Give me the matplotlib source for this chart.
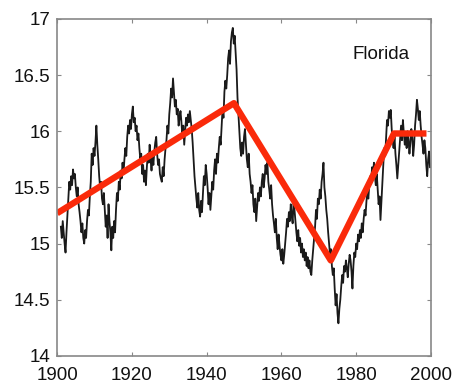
import numpy as np
import matplotlib.pyplot as plt

# quarterly values, one row per year 1901..1999
temp_rows = [
    [15.15, 15.05, 15.20, 15.10],  # 1901
    [15.00, 14.92, 15.10, 15.25],
    [15.40, 15.55, 15.48, 15.60],
    [15.52, 15.66, 15.58, 15.62],
    [15.50, 15.42, 15.50, 15.35],
    [15.28, 15.20, 15.10, 15.18],
    [15.05, 15.00, 15.12, 15.05],
    [15.20, 15.30, 15.25, 15.42],
    [15.55, 15.80, 15.70, 15.85],
    [15.78, 15.90, 16.05, 15.88],  # 1910
    [15.75, 15.60, 15.50, 15.55],
    [15.40, 15.35, 15.45, 15.30],
    [15.15, 15.25, 15.05, 15.35],
    [15.20, 15.10, 14.94, 15.15],
    [15.05, 15.20, 15.10, 15.30],
    [15.45, 15.38, 15.55, 15.48],
    [15.65, 15.58, 15.72, 15.62],
    [15.75, 15.85, 15.78, 15.95],
    [16.05, 15.98, 16.10, 16.02],
    [16.15, 16.22, 16.08, 16.12],  # 1920
    [16.00, 16.05, 15.92, 15.98],
    [15.85, 15.75, 15.80, 15.62],
    [15.70, 15.55, 15.65, 15.52],
    [15.68, 15.80, 15.72, 15.88],
    [15.75, 15.65, 15.78, 15.70],
    [15.82, 15.90, 15.95, 15.80],
    [15.70, 15.75, 15.62, 15.58],
    [15.55, 15.68, 15.60, 15.75],
    [15.85, 15.92, 16.05, 15.98],
    [16.15, 16.25, 16.38, 16.30],  # 1930
    [16.47, 16.35, 16.22, 16.28],
    [16.15, 16.20, 16.05, 16.12],
    [16.18, 16.08, 15.96, 16.05],
    [15.88, 16.00, 16.12, 16.05],
    [16.15, 16.08, 16.18, 16.10],
    [16.02, 15.90, 15.75, 15.60],
    [15.50, 15.40, 15.32, 15.45],
    [15.30, 15.24, 15.38, 15.28],
    [15.45, 15.60, 15.52, 15.70],
    [15.62, 15.50, 15.35, 15.45],  # 1940
    [15.30, 15.42, 15.55, 15.48],
    [15.65, 15.75, 15.62, 15.80],
    [15.72, 15.85, 15.95, 15.88],
    [16.05, 16.20, 16.12, 16.35],
    [16.45, 16.38, 16.50, 16.65],
    [16.72, 16.60, 16.80, 16.88],
    [16.92, 16.78, 16.85, 16.70],
    [16.55, 16.30, 16.15, 16.00],
    [15.85, 15.78, 15.90, 15.80],
    [15.95, 16.02, 15.88, 15.75],  # 1950
    [15.68, 15.80, 15.62, 15.55],
    [15.45, 15.52, 15.35, 15.28],
    [15.40, 15.20, 15.32, 15.45],
    [15.38, 15.50, 15.42, 15.55],
    [15.62, 15.50, 15.58, 15.70],
    [15.62, 15.72, 15.55, 15.48],
    [15.40, 15.52, 15.35, 15.25],
    [15.18, 15.10, 15.22, 15.05],
    [14.95, 15.08, 14.98, 14.90],
    [14.85, 14.95, 14.82, 14.90],  # 1960
    [15.00, 15.10, 15.22, 15.15],
    [15.28, 15.20, 15.35, 15.25],
    [15.18, 15.38, 15.30, 15.20],
    [15.10, 15.02, 15.12, 14.98],
    [15.05, 14.92, 15.00, 14.88],
    [14.95, 14.85, 14.92, 14.80],
    [14.88, 14.78, 14.85, 14.75],
    [14.72, 14.85, 14.95, 15.05],
    [15.15, 15.30, 15.22, 15.40],
    [15.35, 15.48, 15.40, 15.55],  # 1970
    [15.62, 15.72, 15.50, 15.42],
    [15.30, 15.22, 15.10, 15.00],
    [14.90, 14.95, 14.80, 14.72],
    [14.78, 14.60, 14.45, 14.55],
    [14.38, 14.29, 14.42, 14.50],
    [14.62, 14.72, 14.65, 14.80],
    [14.75, 14.85, 14.78, 14.70],
    [14.82, 14.90, 14.85, 14.75],
    [14.60, 14.80, 14.92, 14.88],
    [15.00, 14.95, 15.08, 15.02],  # 1980
    [15.12, 15.05, 15.18, 15.10],
    [15.22, 15.30, 15.25, 15.38],
    [15.45, 15.40, 15.52, 15.60],
    [15.55, 15.68, 15.62, 15.72],
    [15.60, 15.52, 15.62, 15.48],
    [15.35, 15.42, 15.21, 15.38],
    [15.55, 15.70, 15.85, 15.78],
    [15.95, 16.10, 16.05, 16.18],
    [16.12, 16.19, 16.02, 15.92],
    [15.85, 15.95, 15.80, 15.70],  # 1990
    [15.58, 15.70, 15.82, 15.95],
    [16.05, 15.92, 16.10, 15.98],
    [15.88, 15.95, 15.85, 16.00],
    [15.92, 15.80, 15.90, 16.02],
    [15.95, 15.78, 15.88, 16.05],
    [16.15, 16.28, 16.20, 16.10],
    [16.18, 16.05, 15.95, 15.88],
    [15.80, 15.92, 15.85, 15.70],
    [15.60, 15.75, 15.82, 15.68],  # 1999
]
first_year = 1901

# piecewise linear trend (red)
trend_years = [1900, 1947.3, 1973.2, 1990.1, 1998.8]
trend_vals = [15.27, 16.25, 14.85, 15.98, 15.98]

temps = np.array(temp_rows).ravel()
years = first_year + np.arange(len(temps)) * 0.25

plt.rcParams['font.family'] = ['Liberation Sans', 'DejaVu Sans']

fig = plt.figure(figsize=(4.57, 3.86), dpi=100)
ax = fig.add_axes([0.125, 0.078, 0.818, 0.873])

ax.plot(years, temps, color='#1a1a1a', lw=1.3)
ax.plot(trend_years, trend_vals, color='#fa2a0a', lw=4.6, solid_capstyle='butt')

ax.set_xlim(1900, 2000)
ax.set_ylim(14, 17)
ax.set_xticks([1900, 1920, 1940, 1960, 1980, 2000])
ax.set_yticks([14, 14.5, 15, 15.5, 16, 16.5, 17])
ax.set_yticklabels(['14', '14.5', '15', '15.5', '16', '16.5', '17'])
ax.tick_params(direction='in', length=3, width=0.8, color='#888888',
               top=True, right=True, labelsize=13.5, labelcolor='#111111')
ax.tick_params(axis='x', pad=8)
ax.tick_params(axis='y', pad=5)
for s in ax.spines.values():
    s.set_color('#888888')
    s.set_linewidth(1.2)

ax.text(0.79, 0.893, 'Florida', transform=ax.transAxes, fontsize=13.5,
        ha='left', va='center', color='#111111')

fig.savefig('out.png', dpi=100)
